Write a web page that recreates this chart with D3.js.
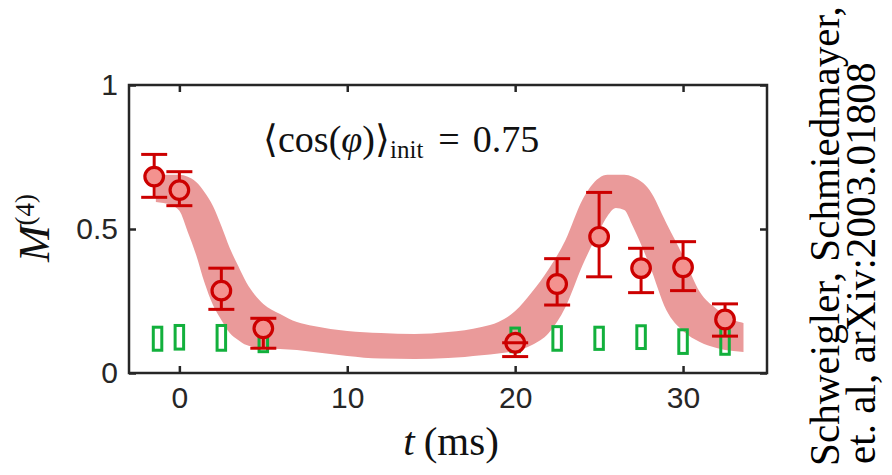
<!DOCTYPE html>
<html>
<head>
<meta charset="utf-8">
<script src="https://cdn.jsdelivr.net/npm/d3@7/dist/d3.min.js"></script>
<style>
  html, body { margin: 0; padding: 0; background: #fff; }
  svg { display: block; }
</style>
</head>
<body>
<svg id="chart" width="892" height="475"></svg>
<script>
// ---- data ----
const bandT  = [-1.4, -0.5, 0, 0.5, 1, 1.5, 2, 2.5, 3, 3.5, 4, 4.5, 5, 6, 7, 8, 10, 12, 14, 16, 18, 19, 20, 21, 22, 23, 24, 25, 25.5, 26, 26.5, 27, 28, 29, 30, 31, 32, 33, 33.6];
const bandHi = [0.688, 0.688, 0.688, 0.681, 0.663, 0.628, 0.580, 0.510, 0.434, 0.372, 0.313, 0.271, 0.240, 0.205, 0.177, 0.163, 0.146, 0.139, 0.135, 0.142, 0.160, 0.177, 0.215, 0.281, 0.361, 0.462, 0.601, 0.677, 0.688, 0.688, 0.688, 0.681, 0.635, 0.521, 0.406, 0.281, 0.222, 0.184, 0.174];
const bandLo = [0.594, 0.583, 0.563, 0.490, 0.410, 0.313, 0.236, 0.184, 0.139, 0.115, 0.097, 0.090, 0.087, 0.083, 0.080, 0.073, 0.059, 0.050, 0.049, 0.052, 0.062, 0.068, 0.076, 0.097, 0.139, 0.229, 0.372, 0.493, 0.545, 0.573, 0.566, 0.510, 0.375, 0.219, 0.146, 0.108, 0.087, 0.076, 0.073];

const tPts   = [-1.5, 0, 2.5, 5, 20, 22.5, 25, 27.5, 30, 32.5];
const mVals  = [0.682, 0.635, 0.286, 0.155, 0.105, 0.309, 0.473, 0.364, 0.367, 0.186];
const mUpper = [0.759, 0.699, 0.364, 0.190, 0.105, 0.397, 0.627, 0.433, 0.456, 0.240];
const mLower = [0.610, 0.581, 0.221, 0.086, 0.057, 0.236, 0.334, 0.279, 0.286, 0.128];

const tBox   = [-1.3, 0, 2.5, 5, 20, 22.5, 25, 27.5, 30, 32.5];
const boxLo  = [0.079, 0.083, 0.079, 0.074, 0.074, 0.079, 0.082, 0.085, 0.068, 0.065];
const boxHi  = [0.159, 0.165, 0.165, 0.155, 0.156, 0.161, 0.159, 0.164, 0.150, 0.156];

const xTicks = [0, 10, 20, 30];
const yTicks = [0, 0.5, 1];
const yTickLabels = ["0", "0.5", "1"];

// ---- layout ----
const svg = d3.select("#chart");
const L = 129, R = 767, T = 85, B = 373;
const x = d3.scaleLinear().domain([-3, 35]).range([L, R]);
const y = d3.scaleLinear().domain([0, 1]).range([B, T]);

const axisColor = "#262626";
const red = "#cc0000";
const green = "#12b03c";

// band
const bandData = bandT.map((t, i) => ({t, lo: bandLo[i], hi: bandHi[i]}));
svg.append("path")
  .datum(bandData)
  .attr("d", d3.area().x(d => x(d.t)).y0(d => y(d.lo)).y1(d => y(d.hi)).curve(d3.curveMonotoneX))
  .attr("fill", "#ea9a9a");

// green boxes
const boxW = 8.5;
svg.append("g").selectAll("rect")
  .data(tBox.map((t, i) => ({t, lo: boxLo[i], hi: boxHi[i]})))
  .join("rect")
  .attr("x", d => x(d.t) - boxW / 2)
  .attr("y", d => y(d.hi))
  .attr("width", boxW)
  .attr("height", d => y(d.lo) - y(d.hi))
  .attr("fill", "none")
  .attr("stroke", green)
  .attr("stroke-width", 3);

// error bars + markers
const pts = tPts.map((t, i) => ({t, v: mVals[i], up: mUpper[i], lo: mLower[i]}));
const capW = 13;
const gE = svg.append("g");
gE.selectAll("line.v").data(pts).join("line")
  .attr("x1", d => x(d.t)).attr("x2", d => x(d.t))
  .attr("y1", d => y(d.up)).attr("y2", d => y(d.lo))
  .attr("stroke", red).attr("stroke-width", 3);
gE.selectAll("circle").data(pts).join("circle")
  .attr("cx", d => x(d.t)).attr("cy", d => y(d.v)).attr("r", 9.3)
  .attr("fill", "#f4928f").attr("stroke", red).attr("stroke-width", 3.2);
gE.selectAll("line.cu").data(pts).join("line")
  .attr("x1", d => x(d.t) - capW).attr("x2", d => x(d.t) + capW)
  .attr("y1", d => y(d.up)).attr("y2", d => y(d.up))
  .attr("stroke", red).attr("stroke-width", 3);
gE.selectAll("line.cl").data(pts).join("line")
  .attr("x1", d => x(d.t) - capW).attr("x2", d => x(d.t) + capW)
  .attr("y1", d => y(d.lo)).attr("y2", d => y(d.lo))
  .attr("stroke", red).attr("stroke-width", 3);

// axes with inward ticks (all four sides)
const tickLen = 7;
const axB = svg.append("g").attr("transform", `translate(0,${B})`)
  .call(d3.axisBottom(x).tickValues(xTicks).tickSize(-tickLen).tickPadding(14).tickFormat(d3.format("d")));
const axT = svg.append("g").attr("transform", `translate(0,${T})`)
  .call(d3.axisTop(x).tickValues(xTicks).tickSize(-tickLen).tickFormat(""));
const axL = svg.append("g").attr("transform", `translate(${L},0)`)
  .call(d3.axisLeft(y).tickValues(yTicks).tickSize(-tickLen).tickPadding(11).tickFormat((d, i) => yTickLabels[i]));
const axR = svg.append("g").attr("transform", `translate(${R},0)`)
  .call(d3.axisRight(y).tickValues(yTicks).tickSize(-tickLen).tickFormat(""));
[axB, axT, axL, axR].forEach(a => {
  a.select(".domain").remove();
  a.selectAll(".tick line").attr("stroke", axisColor).attr("stroke-width", 2.5);
  a.selectAll("text").attr("fill", axisColor).style("font-family", "'Liberation Sans', Arial, sans-serif").style("font-size", "30px");
});
axB.selectAll("text").attr("dy", "0.71em");
// frame
svg.append("rect").attr("x", L).attr("y", T).attr("width", R - L).attr("height", B - T)
  .attr("fill", "none").attr("stroke", axisColor).attr("stroke-width", 2.5);

// annotation
const serif = "'Liberation Serif', 'Times New Roman', serif";
const ann = svg.append("text").attr("x", 263).attr("y", 152)
  .style("font-family", serif).style("font-size", "38px").attr("fill", "#111");
ann.append("tspan").text("\u27E8cos(");
ann.append("tspan").style("font-style", "italic").text("\u03C6");
ann.append("tspan").text(")\u27E9");
ann.append("tspan").style("font-size", "25px").attr("dy", 6).text("init");
ann.append("tspan").attr("dy", -6).attr("dx", 15).text("=");
ann.append("tspan").attr("dx", 13).text("0.75");

// x label
const xl = svg.append("text").attr("x", (L + R) / 2 + 3).attr("y", 455).attr("text-anchor", "middle")
  .style("font-family", serif).style("font-size", "41px").attr("fill", "#111");
xl.append("tspan").style("font-style", "italic").text("t");
xl.append("tspan").attr("dx", 9).text("(ms)");

// y label
const yl = svg.append("text").attr("transform", "translate(49,228) rotate(-90)").attr("text-anchor", "middle")
  .style("font-family", serif).style("font-size", "44px").attr("fill", "#111");
yl.append("tspan").style("font-style", "italic").text("M");
yl.append("tspan").style("font-size", "27px").attr("dy", -15).text("(4)");

// attribution
const attrFont = "'Liberation Serif', 'Times New Roman', serif";
const a1 = svg.append("text").attr("transform", "translate(839,466) rotate(-90)")
  .style("font-family", attrFont).style("font-size", "36px").attr("fill", "#000")
  .text("Schweigler, Schmiedmayer,");
const a2 = svg.append("text").attr("transform", "translate(875,464) rotate(-90)")
  .style("font-family", attrFont).style("font-size", "36px").attr("fill", "#000")
  .text("et. al, arXiv:2003.01808");
// fit first line to reference length
const len1 = a1.node().getComputedTextLength();
const fs = 36 * 460 / len1;
a1.style("font-size", fs + "px");
a2.style("font-size", fs + "px");
</script>
</body>
</html>
